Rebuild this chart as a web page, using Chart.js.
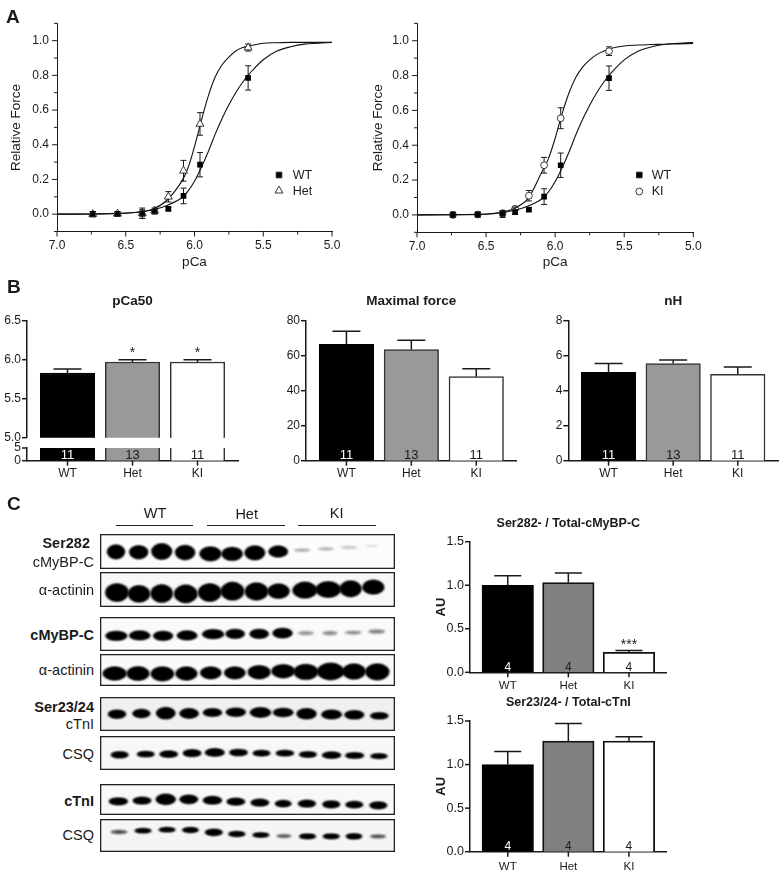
<!DOCTYPE html>
<html>
<head>
<meta charset="utf-8">
<script src="https://cdn.jsdelivr.net/npm/chart.js@4"></script>
<style>
  html, body { margin: 0; padding: 0; background: #fff; }
  #page { position: relative; width: 781px; height: 879px; overflow: hidden; }
  #page canvas { position: absolute; }
  .txt { position: absolute; white-space: nowrap; color: #1a1a1a; font-family: "Liberation Sans", Arial, sans-serif; line-height: 1; }
  .rule { position: absolute; height: 1px; background: #222; }
</style>
</head>
<body>
<div id="page"></div>
<script>
// Panel A: force-pCa points
const pCaPoints = [6.74, 6.56, 6.38, 6.29, 6.19, 6.08, 5.96, 5.61];
const wtForce = [0, 0.002, 0.005, 0.015, 0.03, 0.105, 0.285, 0.785];
const wtForceErr = [0.015, 0.01, 0.02, 0.012, 0.01, 0.045, 0.07, 0.07];
const hetForce = [0, 0.002, 0.005, 0.02, 0.10, 0.25, 0.52, 0.96];
const hetForceErr = [0.015, 0.012, 0.03, 0.015, 0.03, 0.06, 0.065, 0.02];
const kiForce = [0, 0.002, 0.01, 0.035, 0.11, 0.285, 0.555, 0.94];
const kiForceErr = [0.015, 0.015, 0.012, 0.01, 0.03, 0.045, 0.06, 0.025];

// Panel A: fit curves
const curvePCa = [7, 6.75, 6.5, 6.4, 6.3, 6.2, 6.1, 6.05, 6, 5.95, 5.9, 5.85, 5.8, 5.75, 5.7, 5.65, 5.6, 5.5, 5.4, 5.3, 5.2, 5.1, 5];
const wtCurve = [0, 0.001, 0.005, 0.012, 0.025, 0.05, 0.09, 0.13, 0.19, 0.27, 0.36, 0.46, 0.55, 0.63, 0.70, 0.76, 0.81, 0.89, 0.94, 0.965, 0.98, 0.985, 0.99];
const hetCurve = [0, 0.001, 0.006, 0.012, 0.03, 0.08, 0.18, 0.26, 0.39, 0.54, 0.68, 0.79, 0.86, 0.905, 0.94, 0.96, 0.97, 0.985, 0.988, 0.99, 0.99, 0.99, 0.99];
const kiCurve = [0, 0.001, 0.004, 0.012, 0.035, 0.09, 0.24, 0.32, 0.44, 0.58, 0.70, 0.79, 0.85, 0.89, 0.92, 0.94, 0.955, 0.97, 0.975, 0.978, 0.98, 0.982, 0.985];

// Panel B and C bars
const groupLabels = ['WT', 'Het', 'KI'];
const pca50Values = [5.83, 5.97, 5.97];
const pca50Errors = [0.05, 0.03, 0.03];
const pca50Stars = ['', '*', '*'];
const maxForceValues = [66.5, 63.5, 48];
const maxForceErrors = [7.5, 5.3, 4.5];
const nHValues = [5.05, 5.55, 4.93];
const nHErrors = [0.5, 0.2, 0.42];
const skinnedCounts = ['11', '13', '11'];
const ser282Ratio = [1.0, 1.03, 0.23];
const ser282RatioErr = [0.11, 0.11, 0.02];
const ser282Stars = ['', '', '***'];
const ser23Ratio = [1.0, 1.27, 1.27];
const ser23RatioErr = [0.15, 0.2, 0.05];
const blotCounts = ['4', '4', '4'];

const ser282X = [349, 417, 486, 556, 632, 697, 765, 835, 907, 978, 1047, 1115];
const ser282Y = [186, 187, 185, 188, 192, 192, 189, 185, 181, 177, 173, 169];
const ser282W = [50, 52, 58, 56, 62, 60, 58, 54, 45, 45, 45, 35];
const ser282H = [38, 36, 44, 40, 38, 36, 38, 30, 7, 7, 6, 4];
const ser282S = [1, 1, 1, 1, 1, 1, 1, 1, 0.35, 0.3, 0.25, 0.15];
const actinin1X = [352, 418, 486, 558, 630, 698, 770, 836, 915, 985, 1052, 1120];
const actinin1Y = [307, 311, 310, 311, 307, 303, 304, 303, 300, 298, 296, 291];
const actinin1W = [66, 62, 62, 66, 66, 66, 66, 62, 70, 72, 62, 62];
const actinin1H = [50, 46, 50, 50, 50, 50, 48, 40, 44, 44, 44, 38];
const mybpcX = [350, 420, 490, 562, 640, 706, 778, 848, 918, 990, 1060, 1130];
const mybpcY = [438, 437, 438, 437, 433, 432, 432, 430, 430, 430, 428, 425];
const mybpcW = [62, 60, 56, 58, 62, 54, 54, 56, 44, 42, 46, 46];
const mybpcH = [24, 24, 24, 24, 24, 24, 24, 26, 10, 10, 9, 10];
const mybpcS = [1, 1, 1, 1, 1, 1, 1, 1, 0.4, 0.45, 0.45, 0.5];
const actinin2X = [345, 415, 488, 560, 633, 705, 778, 850, 918, 992, 1062, 1132];
const actinin2Y = [549, 549, 550, 549, 547, 547, 545, 542, 544, 543, 543, 544];
const actinin2W = [68, 64, 66, 62, 60, 60, 64, 66, 70, 78, 66, 68];
const actinin2H = [36, 38, 38, 36, 32, 32, 36, 36, 42, 46, 42, 44];
const ser23X = [352, 425, 498, 568, 638, 708, 782, 850, 920, 995, 1063, 1138];
const ser23Y = [88, 86, 85, 86, 83, 82, 83, 83, 87, 89, 90, 93];
const ser23W = [50, 50, 54, 54, 54, 56, 60, 58, 56, 58, 56, 52];
const ser23H = [22, 22, 32, 26, 20, 22, 26, 22, 28, 24, 22, 16];
const csq1X = [360, 438, 507, 577, 645, 716, 785, 855, 924, 995, 1064, 1137];
const csq1Y = [210, 208, 208, 205, 203, 203, 205, 205, 209, 211, 212, 214];
const csq1W = [50, 50, 52, 52, 56, 52, 50, 52, 50, 54, 54, 48];
const csq1H = [16, 14, 16, 18, 20, 16, 14, 14, 14, 16, 14, 12];
const ctniX = [356, 427, 498, 567, 638, 708, 780, 850, 921, 994, 1063, 1135];
const ctniY = [350, 348, 344, 344, 347, 351, 354, 357, 357, 359, 360, 362];
const ctniW = [54, 52, 56, 52, 54, 52, 52, 46, 50, 50, 50, 50];
const ctniH = [18, 18, 28, 22, 20, 18, 18, 16, 18, 18, 16, 18];
const csq2X = [358, 430, 502, 572, 642, 711, 783, 852, 923, 994, 1062, 1134];
const csq2Y = [440, 436, 433, 434, 441, 446, 449, 452, 453, 453, 453, 453];
const csq2W = [46, 48, 48, 46, 50, 48, 48, 40, 48, 48, 46, 44];
const csq2H = [9, 10, 10, 12, 16, 13, 11, 8, 12, 12, 13, 9];
const csq2S = [0.75, 1, 1, 1, 1, 1, 1, 0.7, 1, 1, 1, 0.7];

Chart.defaults.font.family = '"Liberation Sans", Arial, sans-serif';
Chart.defaults.color = '#1a1a1a';
Chart.defaults.animation = false;
Chart.defaults.plugins.legend.display = false;
Chart.defaults.plugins.tooltip.enabled = false;

const page = document.getElementById('page');
const ink = '#1a1a1a';

function addText(text, x, y, size, opts) {
    opts = opts || {};
    const el = document.createElement('div');
    el.className = 'txt';
    el.textContent = text;
    el.style.fontSize = size + 'px';
    if (opts.bold) el.style.fontWeight = 'bold';
    if (opts.align === 'right') {
        el.style.right = (781 - x) + 'px';
        el.style.transform = 'translateY(-50%)';
    } else {
        el.style.left = x + 'px';
        el.style.transform = opts.align === 'center' ? 'translate(-50%,-50%)' : 'translateY(-50%)';
    }
    el.style.top = y + 'px';
    page.appendChild(el);
}

function addRule(x1, x2, y) {
    const el = document.createElement('div');
    el.className = 'rule';
    el.style.left = x1 + 'px';
    el.style.width = (x2 - x1) + 'px';
    el.style.top = y + 'px';
    page.appendChild(el);
}

// Canvas on whole pixels, the plot area stays where the margins put it
function makeCanvas(plot, margin) {
    const left = Math.floor(plot.l - margin.l);
    const top = Math.floor(plot.t - margin.t);
    const right = Math.ceil(plot.r + margin.r);
    const bottom = Math.ceil(plot.b + margin.b);
    const canvas = document.createElement('canvas');
    canvas.width = right - left;
    canvas.height = bottom - top;
    canvas.style.left = left + 'px';
    canvas.style.top = top + 'px';
    canvas.style.width = canvas.width + 'px';
    canvas.style.height = canvas.height + 'px';
    page.appendChild(canvas);
    return {
        canvas: canvas,
        yWidth: plot.l - left,
        xHeight: bottom - plot.b,
        padTop: plot.t - top,
        padRight: right - plot.r
    };
}

const tickMarks = {
    id: 'tickMarks',
    afterDraw(chart, args, opts) {
        const ctx = chart.ctx;
        const area = chart.chartArea;
        ctx.save();
        ctx.strokeStyle = ink;
        ctx.lineWidth = opts.width;
        Object.values(chart.scales).forEach(scale => {
            if (!scale.options.display) return;
            scale.ticks.forEach((tick, i) => {
                const len = tick.label ? opts.major : opts.minor;
                const p = scale.getPixelForTick(i);
                ctx.beginPath();
                if (scale.axis === 'x') {
                    ctx.moveTo(p, area.bottom);
                    ctx.lineTo(p, area.bottom + len);
                } else {
                    ctx.moveTo(area.left, p);
                    ctx.lineTo(area.left - len, p);
                }
                ctx.stroke();
            });
        });
        ctx.restore();
    }
};

const errorBars = {
    id: 'errorBars',
    beforeDatasetsDraw(chart) {
        const ctx = chart.ctx;
        ctx.save();
        chart.data.datasets.forEach(ds => {
            if (!ds.errorBars) return;
            ctx.strokeStyle = ink;
            ctx.lineWidth = ds.errorWidth;
            ds.data.forEach((pt, i) => {
                const x = chart.scales.x.getPixelForValue(pt.x);
                const hi = chart.scales.y.getPixelForValue(pt.y + ds.errorBars[i]);
                const lo = chart.scales.y.getPixelForValue(ds.errorUpOnly ? pt.y : pt.y - ds.errorBars[i]);
                const cap = ds.errorCap / 2;
                ctx.beginPath();
                ctx.moveTo(x, lo);
                ctx.lineTo(x, hi);
                ctx.moveTo(x - cap, hi);
                ctx.lineTo(x + cap, hi);
                if (!ds.errorUpOnly) {
                    ctx.moveTo(x - cap, lo);
                    ctx.lineTo(x + cap, lo);
                }
                ctx.stroke();
            });
        });
        ctx.restore();
    }
};

// n inside the bars and significance stars above them
const barNotes = {
    id: 'barNotes',
    afterDatasetsDraw(chart) {
        const ctx = chart.ctx;
        const ds = chart.data.datasets[0];
        ctx.save();
        ctx.textAlign = 'center';
        ctx.textBaseline = 'alphabetic';
        ds.data.forEach((pt, i) => {
            const x = chart.scales.x.getPixelForValue(pt.x);
            if (ds.counts) {
                ctx.font = ds.countSize + 'px "Liberation Sans", Arial, sans-serif';
                ctx.fillStyle = i === 0 ? '#fff' : ink;
                ctx.fillText(ds.counts[i], x, chart.chartArea.bottom - 1.5);
            }
            if (ds.stars && ds.stars[i]) {
                ctx.font = '14px "Liberation Sans", Arial, sans-serif';
                ctx.fillStyle = ink;
                ctx.fillText(ds.stars[i], x, chart.scales.y.getPixelForValue(pt.y + ds.errorBars[i]) - ds.starGap);
            }
        });
        ctx.restore();
    }
};

const sideKey = {
    id: 'sideKey',
    afterDatasetsDraw(chart, args, opts) {
        const ctx = chart.ctx;
        ctx.save();
        ctx.font = '12.5px "Liberation Sans", Arial, sans-serif';
        ctx.textBaseline = 'middle';
        opts.entries.forEach((entry, i) => {
            const y = opts.y + i * opts.gap;
            ctx.fillStyle = entry.fill;
            ctx.strokeStyle = '#222';
            ctx.lineWidth = 0.9;
            Chart.helpers.drawPoint(ctx, { pointStyle: entry.style, radius: entry.radius, rotation: 0, borderWidth: 0.9 }, opts.x, y);
            ctx.fillStyle = ink;
            ctx.fillText(entry.label, opts.x + opts.textGap, y + 0.5);
        });
        ctx.restore();
    }
};

function pointsOf(xs, ys) {
    return xs.map((x, i) => ({ x: x, y: ys[i] }));
}

function forceChart(plot, yTitlePad, titlePad, mutant, key) {
    const box = makeCanvas(plot, { l: 57, t: 18, r: 20, b: 42 });
    const markerDs = {
        data: pointsOf(pCaPoints, mutant.values),
        errorBars: mutant.errors, errorCap: 6, errorWidth: 1,
        pointStyle: mutant.style, pointRadius: mutant.radius,
        pointBorderColor: '#222', pointBorderWidth: 0.9,
        pointBackgroundColor: ctx => (ctx.parsed.y < 0.05 ? 'transparent' : '#fff')
    };
    const wtDs = {
        data: pointsOf(pCaPoints, wtForce),
        errorBars: wtForceErr, errorCap: 6, errorWidth: 1,
        pointStyle: 'rect', pointRadius: 4,
        pointBackgroundColor: '#000', pointBorderColor: '#000', pointBorderWidth: 0
    };
    const curveOpts = { showLine: true, pointRadius: 0, borderColor: '#111', borderWidth: 1.1, tension: 0.35 };
    new Chart(box.canvas, {
        type: 'scatter',
        data: {
            datasets: [
                markerDs,
                wtDs,
                Object.assign({ data: pointsOf(curvePCa, mutant.curve) }, curveOpts),
                Object.assign({ data: pointsOf(curvePCa, wtCurve) }, curveOpts)
            ]
        },
        options: {
            responsive: false,
            devicePixelRatio: 1,
            layout: { padding: { top: box.padTop, right: box.padRight } },
            plugins: { tickMarks: { major: 5, minor: 3, width: 1 }, sideKey: key },
            scales: {
                x: {
                    type: 'linear', reverse: true, min: 5, max: 7,
                    afterFit(scale) { scale.height = box.xHeight; },
                    grid: { display: false, drawTicks: false },
                    border: { display: true, color: ink, width: 1 },
                    ticks: {
                        stepSize: 0.25, autoSkip: false, maxRotation: 0, padding: 7, color: ink,
                        font: { size: 12 },
                        callback: v => (Math.round(v * 4) % 2 === 0 ? Number(v).toFixed(1) : '')
                    },
                    title: { display: true, text: 'pCa', color: ink, font: { size: 13.5, lineHeight: 1 }, padding: { top: 0, bottom: titlePad } }
                },
                y: {
                    type: 'linear', min: -0.1, max: 1.1,
                    afterFit(scale) { scale.width = box.yWidth; },
                    grid: { display: false, drawTicks: false },
                    border: { display: true, color: ink, width: 1 },
                    ticks: {
                        stepSize: 0.1, autoSkip: false, padding: 8, color: ink,
                        font: { size: 12 },
                        callback: v => (Math.round(v * 10) % 2 === 0 ? Math.abs(v).toFixed(1) : '')
                    },
                    title: { display: true, text: 'Relative Force', color: ink, font: { size: 13.5, lineHeight: 1 }, padding: { top: yTitlePad, bottom: 0 } }
                }
            }
        },
        plugins: [errorBars, tickMarks, sideKey]
    });
}

// Bars on a linear x so the gaps at both axis ends stay as in the figure
function barChart(c) {
    const margin = { l: c.left || 27, t: 15, r: 4, b: c.noX ? 15 : 22 };
    if (c.title) margin.t = c.titleGap + 16;
    const box = makeCanvas(c.plot, margin);
    const titleHeight = c.title ? c.titleSize + c.titleGap : 0;
    new Chart(box.canvas, {
        type: 'bar',
        data: {
            datasets: [{
                data: pointsOf([0, 1, 2], c.values),
                backgroundColor: ['#000', c.midFill, '#fff'],
                borderColor: ['#000', c.edge, c.edge],
                borderWidth: c.edgeWidth,
                barThickness: c.barWidth,
                errorBars: c.errors, errorCap: c.cap, errorWidth: 1.5, errorUpOnly: true,
                counts: c.counts, countSize: c.countSize,
                stars: c.stars, starGap: c.starGap
            }]
        },
        options: {
            responsive: false,
            devicePixelRatio: 1,
            layout: { padding: { top: box.padTop - titleHeight, right: box.padRight, bottom: c.noX ? box.xHeight : 0 } },
            plugins: {
                tickMarks: { major: 5, minor: 0, width: 1.5 },
                title: {
                    display: !!c.title, text: c.title, fullSize: false, color: ink,
                    font: { size: c.titleSize, weight: 'bold', lineHeight: 1 },
                    padding: { top: 0, bottom: c.titleGap }
                }
            },
            scales: {
                x: {
                    type: 'linear', display: !c.noX, min: -0.623, max: 2.623, offset: false,
                    afterFit(scale) { scale.height = c.noX ? 0 : box.xHeight; },
                    afterBuildTicks(scale) { scale.ticks = [{ value: 0 }, { value: 1 }, { value: 2 }]; },
                    grid: { display: false, offset: false, drawTicks: false },
                    border: { display: true, color: ink, width: 1.5 },
                    ticks: {
                        autoSkip: false, maxRotation: 0, padding: c.xPad, color: ink,
                        font: { size: c.xSize },
                        callback: v => groupLabels[v]
                    }
                },
                y: {
                    type: 'linear', min: c.min, max: c.max,
                    afterFit(scale) { scale.width = box.yWidth; },
                    grid: { display: false, drawTicks: false },
                    border: { display: true, color: ink, width: 1.5 },
                    ticks: {
                        stepSize: c.step, autoSkip: false, padding: 6, color: ink,
                        font: { size: c.ySize },
                        callback: v => Number(v).toFixed(c.decimals)
                    },
                    title: c.yTitle ? {
                        display: true, text: c.yTitle, color: ink,
                        font: { size: 13, weight: 'bold', lineHeight: 1 },
                        padding: { top: c.yTitlePad, bottom: 0 }
                    } : { display: false }
                }
            }
        },
        plugins: [errorBars, barNotes, tickMarks]
    });
}

// One western blot strip, bands drawn as blurred ovals through its scales
const gelBands = {
    id: 'gelBands',
    afterDraw(chart) {
        const ctx = chart.ctx;
        const ds = chart.data.datasets[0];
        const xs = chart.scales.x;
        const ys = chart.scales.y;
        ctx.save();
        ctx.fillStyle = ds.gelBack;
        ctx.fillRect(0, 0, chart.width, chart.height);
        ctx.filter = 'blur(1px)';
        ds.data.forEach((pt, i) => {
            const cx = xs.getPixelForValue(pt.x);
            const cy = ys.getPixelForValue(pt.y);
            const rx = Math.abs(xs.getPixelForValue(pt.x + ds.bandW[i] / 2) - cx) + 0.8;
            const ry = Math.abs(ys.getPixelForValue(pt.y + ds.bandH[i] / 2) - cy) + 0.4;
            const s = ds.bandS ? ds.bandS[i] : 1;
            ctx.fillStyle = 'rgba(0,0,0,' + s + ')';
            ctx.beginPath();
            ctx.ellipse(cx, cy, rx, ry, 0, 0, Math.PI * 2);
            ctx.fill();
            if (s === 1) {
                ctx.beginPath();
                ctx.ellipse(cx, cy, rx * 0.86, ry * 1.0, 0, 0, Math.PI * 2);
                ctx.roundRect(cx - rx * 0.78, cy - ry * 0.82, rx * 1.56, ry * 1.64, ry * 0.8);
                ctx.fill();
            }
        });
        ctx.filter = 'none';
        ctx.strokeStyle = '#222';
        ctx.lineWidth = 1.3;
        ctx.strokeRect(0.65, 0.65, chart.width - 1.3, chart.height - 1.3);
        ctx.restore();
    }
};

function gelStrip(top, height, yMin, yMax, xs, ys, ws, hs, strengths, back) {
    const canvas = document.createElement('canvas');
    canvas.width = 295;
    canvas.height = height;
    canvas.style.left = '100px';
    canvas.style.top = top + 'px';
    canvas.style.width = '295px';
    canvas.style.height = height + 'px';
    page.appendChild(canvas);
    new Chart(canvas, {
        type: 'scatter',
        data: { datasets: [{ data: pointsOf(xs, ys), pointRadius: 0, bandW: ws, bandH: hs, bandS: strengths, gelBack: back }] },
        options: {
            responsive: false,
            devicePixelRatio: 1,
            scales: {
                x: { type: 'linear', display: false, min: 301, max: 1185 },
                y: { type: 'linear', display: false, min: yMin, max: yMax, reverse: true }
            }
        },
        plugins: [gelBands]
    });
}

// Panel A
forceChart({ l: 57, t: 23.3, r: 332, b: 231.5 }, 9.5, 4.5,
    { values: hetForce, errors: hetForceErr, curve: hetCurve, style: 'triangle', radius: 4.6 },
    { x: 279, y: 170, gap: 15.7, textGap: 13.7, entries: [
        { label: 'WT', style: 'rect', radius: 4, fill: '#000' },
        { label: 'Het', style: 'triangle', radius: 4.6, fill: '#fff' }
    ] });
forceChart({ l: 417, t: 23.3, r: 693.3, b: 232.3 }, 11.5, 6,
    { values: kiForce, errors: kiForceErr, curve: kiCurve, style: 'circle', radius: 3.4 },
    { x: 279.3, y: 170, gap: 16.5, textGap: 12.4, entries: [
        { label: 'WT', style: 'rect', radius: 4, fill: '#000' },
        { label: 'KI', style: 'circle', radius: 3.4, fill: '#fff' }
    ] });

// Panel B
const panelB = { midFill: '#999999', edge: '#333', edgeWidth: 1.5, barWidth: 54.5, cap: 28, xPad: 6, xSize: 12, ySize: 12, countSize: 13, titleSize: 13.5, titleGap: 13 };
barChart(Object.assign({}, panelB, {
    plot: { l: 27, t: 320.7, r: 238, b: 437.7 }, noX: true, title: 'pCa50',
    values: pca50Values, errors: pca50Errors, stars: pca50Stars, starGap: 3,
    min: 5, max: 6.5, step: 0.5, decimals: 1
}));
barChart(Object.assign({}, panelB, {
    plot: { l: 27, t: 448, r: 238, b: 460.7 },
    values: pca50Values, errors: null, counts: skinnedCounts,
    min: 0, max: 5, step: 5, decimals: 0
}));
barChart(Object.assign({}, panelB, {
    plot: { l: 306, t: 320.7, r: 516.7, b: 460.7 }, title: 'Maximal force',
    values: maxForceValues, errors: maxForceErrors, counts: skinnedCounts,
    min: 0, max: 80, step: 20, decimals: 0
}));
barChart(Object.assign({}, panelB, {
    plot: { l: 568.3, t: 320.7, r: 778, b: 460.7 }, title: 'nH',
    values: nHValues, errors: nHErrors, counts: skinnedCounts,
    min: 0, max: 8, step: 2, decimals: 0
}));

// Panel C bars
const panelC = { midFill: '#808080', edge: '#111', edgeWidth: 1.8, barWidth: 51.5, cap: 27, left: 60, xPad: 7, xSize: 11.5, ySize: 12.5, countSize: 12, titleSize: 12.5, titleGap: 12, yTitle: 'AU', yTitlePad: 24.5, min: 0, max: 1.5, step: 0.5, decimals: 1, counts: blotCounts };
barChart(Object.assign({}, panelC, {
    plot: { l: 470, t: 541.7, r: 666.7, b: 672.3 }, title: 'Ser282- / Total-cMyBP-C',
    values: ser282Ratio, errors: ser282RatioErr, stars: ser282Stars, starGap: 2
}));
barChart(Object.assign({}, panelC, {
    plot: { l: 470, t: 721, r: 666.7, b: 851.7 }, title: 'Ser23/24- / Total-cTnI', xPad: 8.5,
    values: ser23Ratio, errors: ser23RatioErr
}));

// Panel C blots
gelStrip(534, 35, 133, 237, ser282X, ser282Y, ser282W, ser282H, ser282S, '#fcfcfc');
gelStrip(572, 35, 246, 350, actinin1X, actinin1Y, actinin1W, actinin1H, null, '#f8f8f8');
gelStrip(617, 34, 381, 484, mybpcX, mybpcY, mybpcW, mybpcH, mybpcS, '#fafafa');
gelStrip(654, 32, 491, 586, actinin2X, actinin2Y, actinin2W, actinin2H, null, '#fafafa');
gelStrip(697, 34, 36, 139, ser23X, ser23Y, ser23W, ser23H, null, '#f0f0f0');
gelStrip(736, 34, 153, 256, csq1X, csq1Y, csq1W, csq1H, null, '#f7f7f7');
gelStrip(784, 31, 298, 391, ctniX, ctniY, ctniW, ctniH, null, '#f8f8f8');
gelStrip(819, 33, 401, 500, csq2X, csq2Y, csq2W, csq2H, csq2S, '#f5f5f5');

// Panel letters and blot labels
addText('A', 6, 16, 19, { bold: true });
addText('B', 7, 286, 19, { bold: true });
addText('C', 7, 503, 19, { bold: true });
addText('WT', 155, 512.7, 14.5, { align: 'center' });
addText('Het', 246.7, 514, 14.5, { align: 'center' });
addText('KI', 336.7, 512.7, 14.5, { align: 'center' });
addRule(116, 193.3, 525);
addRule(207.3, 285, 525);
addRule(298.3, 375.7, 525);
addText('Ser282', 90, 543.3, 14.5, { bold: true, align: 'right' });
addText('cMyBP-C', 94, 561.7, 14.5, { align: 'right' });
addText('α-actinin', 94, 590, 14.5, { align: 'right' });
addText('cMyBP-C', 94, 635.3, 14.5, { bold: true, align: 'right' });
addText('α-actinin', 94, 670.3, 14.5, { align: 'right' });
addText('Ser23/24', 94, 706.7, 14.5, { bold: true, align: 'right' });
addText('cTnI', 94, 724.3, 14.5, { align: 'right' });
addText('CSQ', 94, 754, 14.5, { align: 'right' });
addText('cTnI', 94, 800.7, 14.5, { bold: true, align: 'right' });
addText('CSQ', 94, 835.3, 14.5, { align: 'right' });
</script>
</body>
</html>
